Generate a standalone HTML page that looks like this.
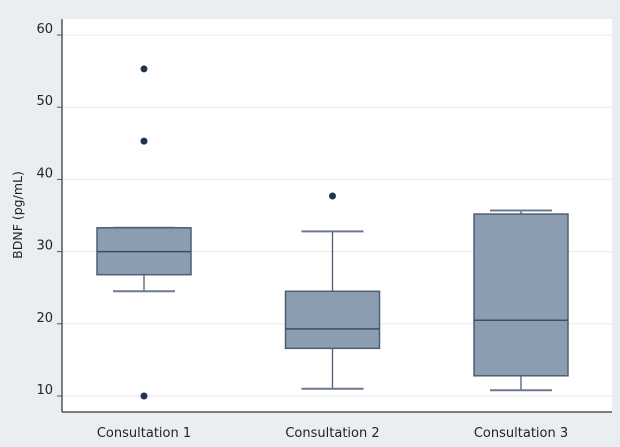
<!DOCTYPE html>
<html><head><meta charset="utf-8"><style>
body{margin:0;background:#fff}
svg{display:block;font-family:"DejaVu Sans","Liberation Sans",sans-serif}
</style></head><body>
<svg width="620" height="447" id="c">
<rect x="0" y="0" width="620" height="447" fill="#e9eff1"/>
<rect x="62" y="19" width="550" height="393" fill="#fff"/>
<g id="grid"></g><g id="marks"></g>
<line x1="62" y1="19" x2="62" y2="412" stroke="#555" stroke-width="1.5"/>
<line x1="62" y1="412" x2="612" y2="412" stroke="#555" stroke-width="1.5"/>
<text transform="translate(22,215) rotate(-90)" text-anchor="middle" font-size="12.5" fill="#222">BDNF (pg/mL)</text>
</svg>
<script>
const categories=["Consultation 1","Consultation 2","Consultation 3"];
const q1=[26.8,16.6,12.8];
const median=[30,19.3,20.5];
const q3=[33.3,24.5,35.2];
const whiskerLow=[24.5,11,10.8];
const whiskerHigh=[33.3,32.8,35.7];
const outliers=[[55.3,45.3,10],[37.7],[]];
const yTicks=[10,20,30,40,50,60];
const NS="http://www.w3.org/2000/svg";
const y=v=>396-(v-10)*7.22;
const x=i=>144+i*188.5;
const bw=94;
function mk(parent,tag,attrs){const e=document.createElementNS(NS,tag);for(const k in attrs)e.setAttribute(k,attrs[k]);document.getElementById(parent).appendChild(e);return e;}
yTicks.forEach(t=>{
 let g=mk('grid','line',{x1:62,x2:612,y1:y(t),y2:y(t),stroke:'#ececec'});
 
 
 let tk=mk('grid','line',{x1:57,x2:62,y1:y(t),y2:y(t),stroke:'#555'});
 
 
 let tx=mk('grid','text',{x:53,y:y(t)-2,'text-anchor':'end','font-size':13,fill:'#222'});
 tx.textContent=t;
 
 
});
categories.forEach((c,i)=>{
 const cx=x(i);
 let w1=mk('marks','line',{x1:cx,x2:cx,y1:y(whiskerLow[i]),y2:y(q1[i]),stroke:'#4f5e72','stroke-width':1.3});
 
 
 let w2=mk('marks','line',{x1:cx,x2:cx,y1:y(whiskerHigh[i]),y2:y(q3[i]),stroke:'#4f5e72','stroke-width':1.3});
 
 
 [whiskerLow[i],whiskerHigh[i]].forEach((v,j)=>{
  let cap=mk('marks','line',{x1:cx-31,x2:cx+31,y1:y(v),y2:y(v),stroke:'#6c7890','stroke-width':2});
  
  
 });
 let b=mk('marks','rect',{x:cx-bw/2,y:y(q3[i]),width:bw,height:y(q1[i])-y(q3[i]),fill:'#8c9db2',stroke:'#4f5e72','stroke-width':1.5});
 
 
 let m=mk('marks','line',{x1:cx-bw/2,x2:cx+bw/2,y1:y(median[i]),y2:y(median[i]),stroke:'#3f4d60','stroke-width':1.5});
 
 
 outliers[i].forEach((v,j)=>{
  let o=mk('marks','circle',{cx:cx,cy:y(v),r:3.5,fill:'#1e3550'});
  
  
 });
 let t=mk('marks','text',{x:cx,y:437,'text-anchor':'middle','font-size':13,fill:'#222'});
 t.textContent=c;
 
 
});
</script>
</body></html>
